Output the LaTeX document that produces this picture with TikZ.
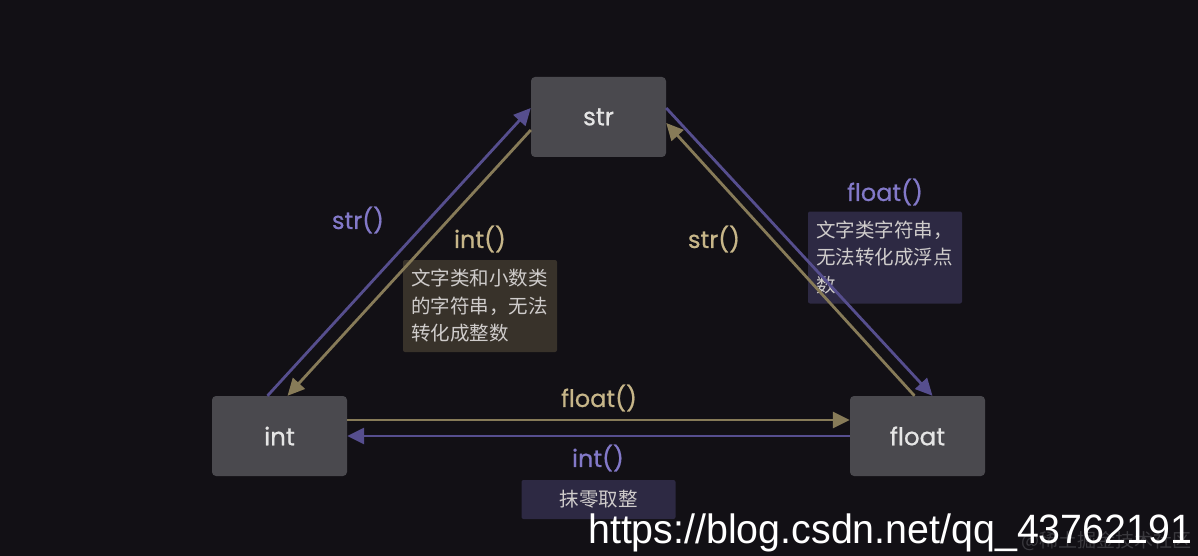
\documentclass[tikz,border=0pt]{standalone}
\usepackage{fontspec}
\setmainfont{Poppins}
\newfontfamily\labelfont{Poppins}[FakeBold=0.7]
\newfontfamily\cjk{Noto Sans CJK SC}
\newfontfamily\wmfont{Liberation Sans}
\usetikzlibrary{arrows.meta,positioning,calc}

\definecolor{bg}{HTML}{121015}
\definecolor{boxgray}{HTML}{4A494E}
\definecolor{violetline}{HTML}{564E8E}
\definecolor{violettext}{HTML}{8379C9}
\definecolor{goldline}{HTML}{877B58}
\definecolor{goldtext}{HTML}{C7B689}
\definecolor{goldnote}{HTML}{38322A}
\definecolor{violetnote}{HTML}{2D2943}
\definecolor{notetext}{HTML}{CFCCCB}
\definecolor{faint}{HTML}{3A393E}

\tikzset{
  type/.style={fill=boxgray, rounded corners=4pt, minimum width=135pt, minimum height=80pt,
    text=white!90!black, font=\labelfont\fontsize{24.5}{28}\selectfont},
  note/.style={rounded corners=2pt, minimum width=154pt, text width=138pt, inner sep=8pt,
    align=left, text=notetext, font=\cjk\fontsize{19.5}{27.5}\selectfont},
  conv/.style={font=\labelfont\fontsize{24}{28}\selectfont},
  tip/.style={line width=2.8pt, -{Triangle[length=17pt,width=16pt]}}
}

\begin{document}
\begin{tikzpicture}[x=1pt, y=-1pt]
\path[use as bounding box, fill=bg] (0,0) rectangle (1198,556);
\node (str) [type] at (598.5,117) {str};
\node (int) [type] at (279.5,436) {int};
\node (float) [type] at (917.5,436) {float};
\node (intnote) [note, fill=goldnote, minimum height=92pt] at (480,306) {文字类和小数类\\的字符串，无法\\转化成整数};
\node (floatnote) [note, fill=violetnote, minimum height=92pt] at (885,257.5) {文字类字符串，\\无法转化成浮点\\数};
\node (roundnote) [note, fill=violetnote, minimum height=39pt, align=center] at (598.5,499.5) {抹零取整};
\draw[tip, violetline] ([xshift=-12pt]int.north) -- ([yshift=9pt]str.west);
\draw[tip, goldline] ([yshift=-13pt]str.west) -- ([xshift=8pt]int.north);
\draw[tip, violetline] ([yshift=9pt]str.east) -- ([xshift=15pt]float.north);
\draw[tip, goldline] ([xshift=-3pt]float.north) -- ([yshift=-6pt]str.east);
\draw[tip, goldline] ([yshift=16pt]int.east) -- ([yshift=16pt]float.west);
\draw[tip, violetline] (float.west) -- (int.east);
\node (tostr) [conv, text=violettext] at (358,220) {str()};
\node (toint) [conv, text=goldtext] at (480,239) {int()};
\node (backstr) [conv, text=goldtext] at (714,239) {str()};
\node (tofloat) [conv, text=violettext] at (885,192) {float()};
\node (intfloat) [conv, text=goldtext] at (599,398) {float()};
\node (floatint) [conv, text=violettext] at (598,458) {int()};
\node (site) [text=faint, font=\cjk\fontsize{19}{19}\selectfont] at (1106,541) {@稀土掘金技术社区};
\node (url) [anchor=base west, inner sep=0pt, xscale=0.96, text=white, font=\wmfont\fontsize{41}{41}\selectfont] at (588,543) {https://blog.csdn.net/qq\_43762191};
\end{tikzpicture}
\end{document}
